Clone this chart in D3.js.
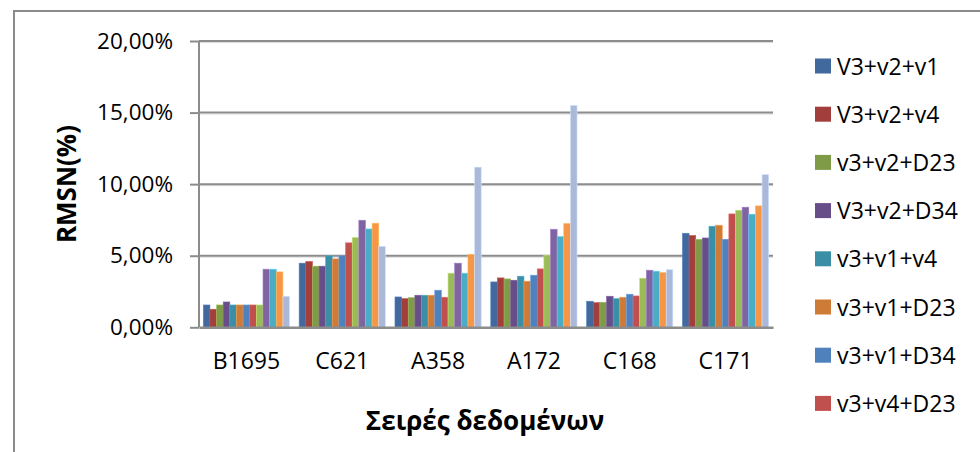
<!DOCTYPE html>
<html>
<head>
<meta charset="utf-8">
<script src="https://cdn.jsdelivr.net/npm/d3@7"></script>
<style>
  html, body { margin: 0; padding: 0; background: #fff; }
  svg { display: block; }
  text { font-family: "Open Sans", "Liberation Sans", sans-serif; fill: #000; }
</style>
</head>
<body>
<svg id="chart" width="980" height="452"></svg>
<script>
// Datasets on the x axis
const categories = ["B1695", "C621", "A358", "A172", "C168", "C171"];

// Variable combinations (one bar per combination within each dataset)
const seriesNames = [
  "V3+v2+v1", "V3+v2+v4", "v3+v2+D23", "V3+v2+D34", "v3+v1+v4", "v3+v1+D23",
  "v3+v1+D34", "v3+v4+D23", "v3+v4+D34", "v3+D23+D34", "v2+v1+v4", "v2+v1+D23", "v2+v4+D34"
];

// RMSN values (fraction) per series, in category order
const s01 = [0.0156, 0.0448, 0.0212, 0.0317, 0.0182, 0.0657];
const s02 = [0.0126, 0.0459, 0.0200, 0.0345, 0.0172, 0.0641];
const s03 = [0.0156, 0.0427, 0.0207, 0.0338, 0.0175, 0.0615];
const s04 = [0.0177, 0.0427, 0.0224, 0.0329, 0.0217, 0.0624];
const s05 = [0.0156, 0.0499, 0.0224, 0.0357, 0.0200, 0.0706];
const s06 = [0.0156, 0.0478, 0.0224, 0.0322, 0.0210, 0.0713];
const s07 = [0.0156, 0.0499, 0.0259, 0.0364, 0.0231, 0.0615];
const s08 = [0.0156, 0.0590, 0.0210, 0.0408, 0.0219, 0.0792];
const s09 = [0.0156, 0.0627, 0.0378, 0.0501, 0.0343, 0.0818];
const s10 = [0.0406, 0.0748, 0.0448, 0.0685, 0.0399, 0.0839];
const s11 = [0.0406, 0.0687, 0.0378, 0.0634, 0.0392, 0.0790];
const s12 = [0.0387, 0.0727, 0.0510, 0.0725, 0.0382, 0.0848];
const s13 = [0.0217, 0.0566, 0.1119, 0.1550, 0.0403, 0.1067];
const seriesValues = [s01, s02, s03, s04, s05, s06, s07, s08, s09, s10, s11, s12, s13];

const colors = [
  "#41699D", "#A23F3C", "#7F9B48", "#684E88", "#3A8EA6", "#CE7B37",
  "#4F81BD", "#C0504D", "#9BBB59", "#8064A2", "#4BACC6", "#F79646", "#AAB9D9"
];

// Legend only has room for the first eight entries
const legendCount = 8;

const yTicks = [0, 0.05, 0.10, 0.15, 0.20];

const svg = d3.select("#chart");

// Chart frame
svg.append("rect")
  .attr("x", 14).attr("y", 11)
  .attr("width", 980).attr("height", 460)
  .attr("fill", "#fff")
  .attr("stroke", "#8a8a8a").attr("stroke-width", 2);

const plot = { left: 199, right: 773, top: 41, bottom: 327.3 };

const x0 = d3.scaleBand()
  .domain(categories)
  .range([plot.left, plot.right])
  .paddingInner(0.1)
  .paddingOuter(0.045);

const x1 = d3.scaleBand()
  .domain(d3.range(seriesNames.length))
  .range([0, x0.bandwidth()])
  .padding(0);

const y = d3.scaleLinear()
  .domain([0, 0.20])
  .range([plot.bottom, plot.top]);

const fmt = v => d3.format(".2f")(v * 100).replace(".", ",") + "%";

// Horizontal gridlines with a soft shadow line
const grid = svg.append("g");
yTicks.filter(t => t > 0).forEach(t => {
  grid.append("line")
    .attr("x1", plot.left).attr("x2", plot.right)
    .attr("y1", y(t) + 1.5).attr("y2", y(t) + 1.5)
    .attr("stroke", "#dcdcdc").attr("stroke-width", 1);
  grid.append("line")
    .attr("x1", plot.left).attr("x2", plot.right)
    .attr("y1", y(t)).attr("y2", y(t))
    .attr("stroke", "#8c8c8c").attr("stroke-width", 2);
});

// Bars
const groups = svg.append("g")
  .selectAll("g")
  .data(categories)
  .join("g")
  .attr("transform", d => `translate(${x0(d)},0)`);

groups.selectAll("rect")
  .data((c, ci) => seriesValues.map((vals, si) => ({ si, v: vals[ci] })))
  .join("rect")
  .attr("x", d => x1(d.si))
  .attr("width", x1.bandwidth())
  .attr("y", d => y(d.v))
  .attr("height", d => y(0) - y(d.v))
  .attr("fill", d => colors[d.si])
  .attr("stroke", d => d3.color(colors[d.si]).brighter(0.6))
  .attr("stroke-width", 0.6);

// Y axis
const yAxis = svg.append("g")
  .attr("transform", `translate(${plot.left},0)`)
  .call(d3.axisLeft(y).tickValues(yTicks).tickFormat(fmt).tickSize(9).tickPadding(17));
yAxis.select(".domain").attr("stroke", "#8c8c8c").attr("stroke-width", 2)
  .attr("d", `M0,${plot.top}V${plot.bottom}`);
yAxis.selectAll(".tick line").attr("stroke", "#8c8c8c").attr("stroke-width", 2);
yAxis.selectAll(".tick text")
  .attr("font-size", 22.5)
  .style("font-family", "'Open Sans', sans-serif")
  .attr("fill", "#000");

// X axis baseline
const xAxis = svg.append("g")
  .attr("transform", `translate(0,${plot.bottom})`)
  .call(d3.axisBottom(x0).tickSize(0).tickPadding(25));
xAxis.select(".domain").attr("stroke", "#8c8c8c").attr("stroke-width", 2.5);
xAxis.selectAll(".tick text")
  .attr("font-size", 23)
  .style("font-family", "'Open Sans', sans-serif")
  .attr("fill", "#000");

// Axis titles
svg.append("text")
  .attr("x", 485).attr("y", 430)
  .attr("text-anchor", "middle")
  .attr("font-size", 26).attr("font-weight", "bold")
  .text("Σειρές δεδομένων");

svg.append("text")
  .attr("transform", "translate(76,184) rotate(-90)")
  .attr("text-anchor", "middle")
  .attr("font-size", 26).attr("font-weight", "bold")
  .text("RMSN(%)");

// Legend
const legend = svg.append("g")
  .selectAll("g")
  .data(seriesNames.slice(0, legendCount))
  .join("g")
  .attr("transform", (d, i) => `translate(815,${66 + i * 48.2})`);

legend.append("rect")
  .attr("x", 0).attr("y", -7.5)
  .attr("width", 16).attr("height", 15)
  .attr("fill", (d, i) => colors[i]);

legend.append("text")
  .attr("x", 22).attr("y", 8.5)
  .attr("font-size", 23)
  .text(d => d);
</script>
</body>
</html>
